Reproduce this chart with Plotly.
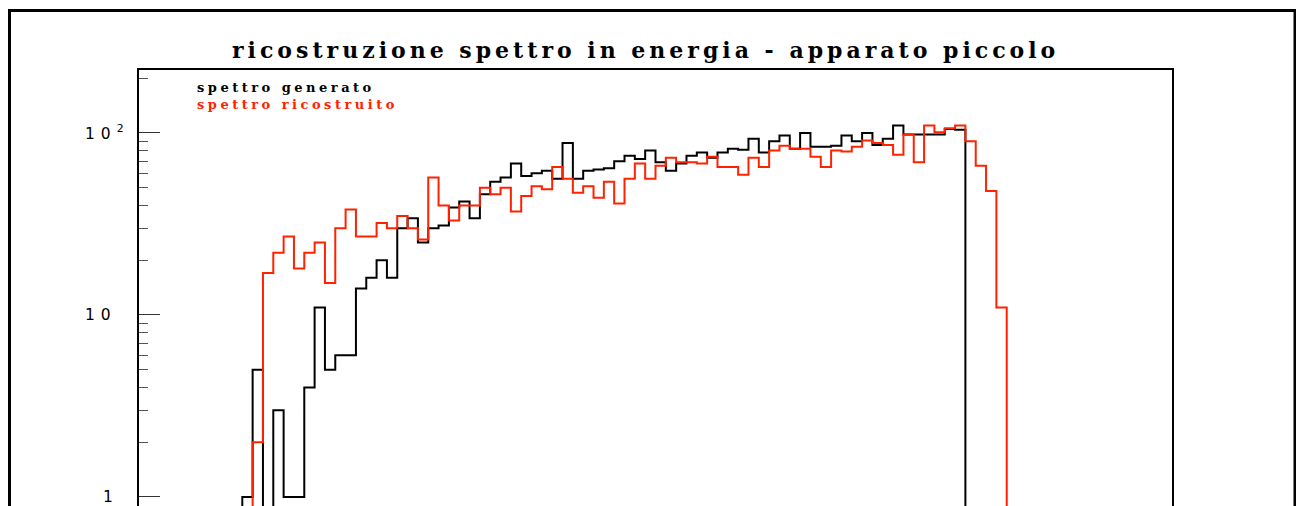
import math
import plotly.graph_objects as go

# 100 energy bins on [0, 100)
n_bins = 100
bin_edges = list(range(n_bins + 1))

# counts per bin: generated spectrum (black)
generato = ([0] * 10 +
            [1, 5, 0, 3, 1, 1, 4, 11, 5, 6,
             6, 14, 16, 20, 16, 30, 34, 25, 30, 31,
             39, 42, 34, 46, 54, 57, 68, 58, 60, 62,
             56, 88, 56, 62, 63, 64, 70, 75, 72, 80,
             69, 62, 68, 75, 78, 73, 78, 82, 81, 93,
             78, 90, 97, 82, 100, 84, 84, 85, 97, 90,
             100, 86, 93, 110, 98, 98, 98, 98, 105, 104] +
            [0] * 20)

# counts per bin: reconstructed spectrum (red)
ricostruito = ([0] * 11 +
               [2, 17, 22, 27, 18, 22, 25, 15, 30,
                38, 27, 27, 32, 30, 35, 30, 26, 57, 40,
                33, 40, 40, 50, 46, 50, 37, 45, 51, 49,
                65, 56, 47, 51, 44, 54, 41, 56, 68, 56,
                66, 73, 69, 69, 68, 74, 65, 65, 59, 73,
                65, 80, 85, 82, 82, 74, 65, 80, 79, 84,
                91, 88, 86, 76, 98, 69, 110, 101, 106, 110,
                90, 66, 48, 11] +
               [0] * 16)

y_tick_vals = [1, 10, 100]
y_tick_text = ["1", "10", "10<sup>2</sup>"]
y_minor_vals = [2, 3, 4, 5, 6, 7, 8, 9, 20, 30, 40, 50, 60, 70, 80, 90, 200]

# empty bins sit below the visible log range
EMPTY = 1e-3


def step_y(counts):
    ys = [c if c > 0 else EMPTY for c in counts]
    return ys + [ys[-1]]


RED = "#ff2200"

fig = go.Figure()
fig.add_trace(go.Scatter(x=bin_edges, y=step_y(generato), mode="lines",
                         line=dict(color="black", width=2, shape="hv"),
                         showlegend=False))
fig.add_trace(go.Scatter(x=bin_edges, y=step_y(ricostruito), mode="lines",
                         line=dict(color=RED, width=2, shape="hv"),
                         showlegend=False))

W, H = 1296, 506
ML, MR, MT, MB = 139, 124, 70, 0
pw, ph = W - ML - MR, H - MT - MB


def px_x(p):
    return (p - ML) / pw


def px_y(p):
    return (H - MB - p) / ph


def spaced(text, px):
    return f"<span style='letter-spacing:{px}px'>{text}</span>"


# y tick labels, placed at their tick values
tick_label_left = {1: 101, 10: 83, 100: 83}
tick_annotations = [
    dict(text=spaced(t, 6), xref="paper", yref="y", x=px_x(tick_label_left[v]),
         y=math.log10(v), xanchor="left", yanchor="middle", showarrow=False,
         font=dict(family="DejaVu Sans", size=15.5, color="black"))
    for v, t in zip(y_tick_vals, y_tick_text)
]

fig.update_layout(
    width=W, height=H,
    margin=dict(l=ML, r=MR, t=MT, b=MB),
    paper_bgcolor="white", plot_bgcolor="white",
    xaxis=dict(range=[0, 100], side="top", showline=True, linecolor="black",
               linewidth=2, showgrid=False, zeroline=False, ticks="",
               showticklabels=False),
    yaxis=dict(type="log", range=[-0.0495, 2.346], showline=True, mirror=True,
               linecolor="black", linewidth=2, showgrid=False, zeroline=False,
               tickvals=y_tick_vals, ticks="inside", showticklabels=False,
               ticklen=21, tickwidth=1, tickcolor="#333",
               minor=dict(tickvals=y_minor_vals, ticks="inside", ticklen=9,
                          tickwidth=1, tickcolor="#555", showgrid=False)),
    shapes=[dict(type="rect", xref="paper", yref="paper",
                 x0=px_x(9.5), x1=px_x(1295), y0=px_y(560), y1=px_y(10.5),
                 line=dict(color="black", width=3), fillcolor="rgba(0,0,0,0)",
                 layer="below")],
    annotations=tick_annotations + [
        dict(text="<b>" + spaced("ricostruzione spettro in energia - apparato piccolo", 4) + "</b>",
             xref="paper", yref="paper", x=px_x(645), y=px_y(50),
             xanchor="center", yanchor="middle", showarrow=False,
             font=dict(family="DejaVu Serif", size=22, color="black")),
        dict(text="<b>" + spaced("spettro generato", 3.5) + "<br>"
             + f"<span style='color:{RED}'>" + spaced("spettro ricostruito", 3.5)
             + "</span></b>",
             xref="paper", yref="paper", x=px_x(195), y=px_y(95.5),
             xanchor="left", yanchor="middle", align="left", showarrow=False,
             font=dict(family="DejaVu Serif", size=13, color="black")),
    ],
)

fig.write_html("out.html")
